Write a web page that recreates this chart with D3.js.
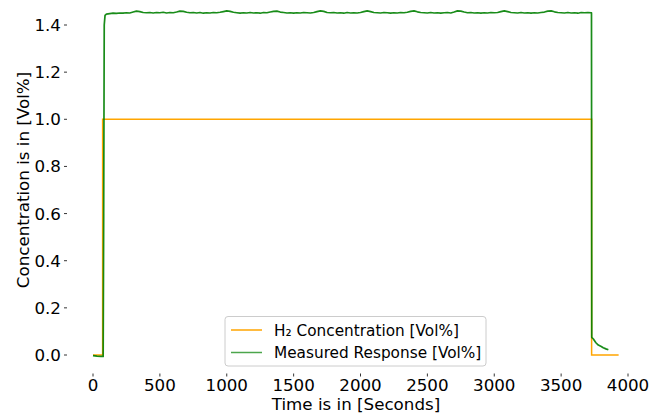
<!DOCTYPE html>
<html>
<head>
<meta charset="utf-8">
<script src="https://cdn.jsdelivr.net/npm/d3@7.9.0/dist/d3.min.js"></script>
<style>
  html, body { margin: 0; padding: 0; background: #fff; }
  svg { display: block; font-family: "DejaVu Sans", sans-serif; }
</style>
</head>
<body>
<svg id="chart" width="671" height="416"></svg>
<script>
// H2 set-point (step profile)
const h2Times = [0, 72, 72, 3728, 3728, 3930];
const h2Values = [0, 0, 1, 1, 0, 0];

// measured response: rise, plateau (every 25 s), fall + decay
const riseTimes = [0, 30, 60, 76, 80, 84, 90];
const riseValues = [-0.003, -0.005, -0.006, -0.006, 0.60, 1.40, 1.441];

const plateauStart = 100;
const plateauStep = 25;
const plateauValues = [
  1.446, 1.448, 1.450, 1.449, 1.451, 1.450, 1.452, 1.451,
  1.455, 1.459, 1.457, 1.453, 1.452, 1.453, 1.451, 1.453,
  1.452, 1.454, 1.451, 1.453, 1.452, 1.455, 1.459, 1.458,
  1.454, 1.452, 1.453, 1.451, 1.453, 1.450, 1.452, 1.451,
  1.453, 1.452, 1.454, 1.457, 1.460, 1.458, 1.454, 1.452,
  1.450, 1.452, 1.451, 1.453, 1.451, 1.452, 1.450, 1.453,
  1.452, 1.455, 1.458, 1.459, 1.455, 1.453, 1.451, 1.452,
  1.450, 1.452, 1.451, 1.453, 1.452, 1.451, 1.453, 1.457,
  1.460, 1.458, 1.453, 1.452, 1.453, 1.451, 1.452, 1.450,
  1.453, 1.451, 1.452, 1.451, 1.453, 1.457, 1.460, 1.457,
  1.453, 1.452, 1.451, 1.453, 1.452, 1.450, 1.452, 1.451,
  1.453, 1.452, 1.454, 1.458, 1.460, 1.456, 1.453, 1.452,
  1.451, 1.453, 1.451, 1.452, 1.450, 1.452, 1.453, 1.451,
  1.455, 1.460, 1.459, 1.455, 1.452, 1.453, 1.451, 1.452,
  1.450, 1.452, 1.451, 1.453, 1.452, 1.453, 1.457, 1.460,
  1.457, 1.453, 1.452, 1.451, 1.453, 1.451, 1.452, 1.450,
  1.452, 1.451, 1.453, 1.455, 1.459, 1.460, 1.456, 1.453,
  1.452, 1.451, 1.453, 1.451, 1.452, 1.450, 1.453, 1.452,
  1.453, 1.452
];

const fallTimes = [3727, 3729, 3741, 3760, 3778, 3800, 3815, 3835, 3853];
const fallValues = [1.451, 0.075, 0.068, 0.052, 0.042, 0.036, 0.031, 0.026, 0.022];

const xTicks = [0, 500, 1000, 1500, 2000, 2500, 3000, 3500, 4000];
const yTicks = [0, 0.2, 0.4, 0.6, 0.8, 1.0, 1.2, 1.4];
const seriesNames = ['H\u2082 Concentration [Vol%]', 'Measured Response [Vol%]'];
const seriesColors = ['#ffa500', '#008000'];

const svg = d3.select('#chart');
const x = d3.scaleLinear().domain([0, 4000]).range([93, 628]);
const y = d3.scaleLinear().domain([0, 1.4]).range([355, 25]);

const plotLeft = 67;
const plotBottom = 373.5;

// build point lists
const h2Data = h2Times.map((t, i) => [t, h2Values[i]]);
let respData = riseTimes.map((t, i) => [t, riseValues[i]]);
plateauValues.forEach((v, i) => respData.push([plateauStart + i * plateauStep, v]));
fallTimes.forEach((t, i) => respData.push([t, fallValues[i]]));

const line = d3.line().x(d => x(d[0])).y(d => y(d[1]));

svg.append('path')
  .attr('d', line(h2Data))
  .attr('fill', 'none')
  .attr('stroke', seriesColors[0])
  .attr('stroke-width', 1.5);

svg.append('path')
  .attr('d', line(respData))
  .attr('fill', 'none')
  .attr('stroke', seriesColors[1])
  .attr('stroke-opacity', 0.9)
  .attr('stroke-width', 1.7)
  .attr('stroke-linejoin', 'round');

// y axis (no spine, only ticks)
const yAxis = svg.append('g');
yTicks.forEach(v => {
  yAxis.append('line')
    .attr('x1', plotLeft - 3).attr('x2', plotLeft)
    .attr('y1', y(v)).attr('y2', y(v))
    .attr('stroke', '#000').attr('stroke-width', 0.8);
  yAxis.append('text')
    .attr('x', 61).attr('y', y(v) + 6)
    .attr('text-anchor', 'end')
    .attr('font-size', 16.7)
    .text(d3.format('.1f')(v));
});

// x axis
const xAxis = svg.append('g');
xTicks.forEach(v => {
  xAxis.append('line')
    .attr('x1', x(v)).attr('x2', x(v))
    .attr('y1', plotBottom).attr('y2', plotBottom + 3)
    .attr('stroke', '#000').attr('stroke-width', 0.8);
  xAxis.append('text')
    .attr('x', x(v)).attr('y', 391)
    .attr('text-anchor', 'middle')
    .attr('font-size', 16.7)
    .text(v);
});

svg.append('text')
  .attr('x', 356).attr('y', 410)
  .attr('text-anchor', 'middle')
  .attr('font-size', 16.7)
  .text('Time is in [Seconds]');

svg.append('text')
  .attr('transform', 'translate(29,180) rotate(-90)')
  .attr('text-anchor', 'middle')
  .attr('font-size', 16.7)
  .text('Concentration is in [Vol%]');

// legend
const legend = svg.append('g');
legend.append('rect')
  .attr('x', 225).attr('y', 316.5)
  .attr('width', 261).attr('height', 49.5)
  .attr('rx', 3)
  .attr('fill', '#fff').attr('fill-opacity', 0.8)
  .attr('stroke', '#cccccc').attr('stroke-width', 1);

seriesNames.forEach((name, i) => {
  const cy = 330 + i * 22.5;
  legend.append('line')
    .attr('x1', 231).attr('x2', 262)
    .attr('y1', cy).attr('y2', cy)
    .attr('stroke', seriesColors[i])
    .attr('stroke-opacity', i === 1 ? 0.7 : 1)
    .attr('stroke-width', 1.5);
  legend.append('text')
    .attr('x', 274).attr('y', cy + 5.5)
    .attr('font-size', 15.3)
    .text(name);
});
</script>
</body>
</html>
